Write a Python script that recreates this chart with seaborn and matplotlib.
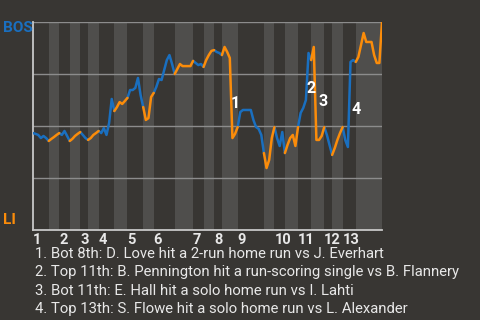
import numpy as np
import pandas as pd
import seaborn as sns
import matplotlib.pyplot as plt

# win probability for BOS (percent), start of game then one list per half-inning
start_wp = 46.6
halves = [
    [46.2, 45.7, 44.2, 45.2, 44.2, 42.8],                            # T1
    [43.8, 44.7, 45.7, 46.6],                                        # B1
    [45.7, 47.6, 45.2, 42.8],                                        # T2
    [43.8, 45.2, 46.2, 47.1],                                        # B2
    [45.7, 44.2, 43.3],                                              # T3
    [44.2, 45.7, 46.6, 47.6],                                        # B3
    [46.6, 49.0, 45.7, 51.4, 63.0, 57.2],                            # T4
    [59.1, 61.5, 60.6, 62.0, 63.5],                                  # B4
    [67.3, 67.3, 68.3, 73.1, 64.9, 59.1],                            # T5
    [52.9, 53.8, 63.9, 65.9],                                        # B5
    [68.8, 72.6, 72.1, 76.9, 81.7, 84.1, 79.8, 75.0],                # T6
    [77.4, 79.8, 78.8, 78.8, 78.8, 78.8, 81.3],                      # B6
    [80.3, 79.3, 79.8, 78.4],                                        # T7
    [81.7, 84.1, 86.1, 86.5],                                        # B7
    [85.6, 85.1, 84.1],                                              # T8
    [88.0, 85.6, 82.7, 44.2, 46.2, 49.5],                            # B8
    [56.7, 57.7, 57.7, 57.7, 57.7, 52.9, 49.5, 48.6, 45.7, 37.0],    # T9
    [29.8, 33.7, 44.2, 49.5],                                        # B9
    [44.2, 40.4, 47.1, 37.0],                                        # T10
    [40.9, 44.2, 45.7, 40.4, 49.5],                                  # B10
    [56.3, 58.7, 62.5, 85.1, 81.7],                                  # T11
    [88.0, 43.3, 43.3, 45.2, 49.5],                                  # B11
    [45.7, 40.9, 36.1],                                              # T12
    [39.4, 43.3, 46.6, 49.5],                                        # B12
    [43.3, 39.9, 80.8, 81.7, 80.8],                                  # T13
    [83.2, 88.9, 94.7, 90.4, 90.4, 90.4, 84.1, 80.3, 80.3, 100.0],   # B13
]
innings = [str(i) for i in range(1, 14)]

# key plays: number, (event index, wp) where the label sits
play_nums = ["1", "2", "3", "4"]
play_pos = [(77.0, 60.6), (105.9, 67.8), (110.5, 62.0), (123.1, 57.7)]
play_text = [
    "1. Bot 8th: D. Love hit a 2-run home run vs J. Everhart",
    "2. Top 11th: B. Pennington hit a run-scoring single vs B. Flannery",
    "3. Bot 11th: E. Hall hit a solo home run vs I. Lahti",
    "4. Top 13th: S. Flowe hit a solo home run vs L. Alexander",
]

bg = "#383633"
band = "#4f4e4c"
blue = "#1a6fbf"
orange = "#fb8c0a"

counts = [len(h) for h in halves]
bounds = np.cumsum([0] + counts)

rows = []
prev = start_wp
for i, h in enumerate(halves):
    team = "BOS" if i % 2 == 0 else "LI"
    vals = [prev] + h
    for j, v in enumerate(vals):
        rows.append({"x": bounds[i] + j, "wp": v, "half": i, "team": team})
    prev = h[-1]
df = pd.DataFrame(rows)

sns.set_style("dark", {"axes.facecolor": bg, "figure.facecolor": bg})
plt.rcParams["font.family"] = ["Roboto", "DejaVu Sans"]

fig = plt.figure(figsize=(4.8, 3.2), dpi=100)
ax = fig.add_axes([33 / 480, 90 / 320, 349 / 480, 208 / 320])
ax.set_facecolor(bg)

for i in range(1, len(halves), 2):
    ax.axvspan(bounds[i], bounds[i + 1], color=band, lw=0, zorder=0.1)

sns.lineplot(data=df, x="x", y="wp", hue="team", units="half", estimator=None,
             palette={"BOS": blue, "LI": orange}, legend=False, sort=False,
             lw=1.8, ax=ax, zorder=3)

ax.set_xlim(0, bounds[-1])
ax.set_ylim(0, 100)
ax.set_yticks([25, 50, 75, 100])
ax.set_yticklabels([])
ax.yaxis.grid(True, color="#8c8c8c", lw=1)
ax.xaxis.grid(False)
ax.set_axisbelow(True)
ax.tick_params(axis="y", length=0)
ax.set_xticks(bounds[0::2][:13])
ax.set_xticklabels(innings, ha="left", color="#e8e8e8", fontsize=10.5, fontweight="bold")
ax.tick_params(axis="x", length=0, pad=2)
ax.set_xlabel("")
ax.set_ylabel("")
for s in ["top", "right"]:
    ax.spines[s].set_visible(False)
for s in ["left", "bottom"]:
    ax.spines[s].set_visible(True)
    ax.spines[s].set_color("#c8c8c8")
    ax.spines[s].set_linewidth(1.3)

for num, (px, py) in zip(play_nums, play_pos):
    ax.text(px, py, num, color="white", fontsize=11.5, fontweight="bold",
            ha="center", va="center", zorder=4)

fig.text(3 / 480, 1 - 28 / 320, "BOS", color=blue, fontsize=11, fontweight="bold", va="center")
fig.text(3 / 480, 1 - 220 / 320, "LI", color=orange, fontsize=11, fontweight="bold", va="center")

for k, t in enumerate(play_text):
    fig.text(35 / 480, 1 - (258 + 18.3 * k) / 320, t, color="#e8e8e8",
             fontsize=10.7, va="baseline")

fig.savefig("out.png", dpi=100, facecolor=bg)
